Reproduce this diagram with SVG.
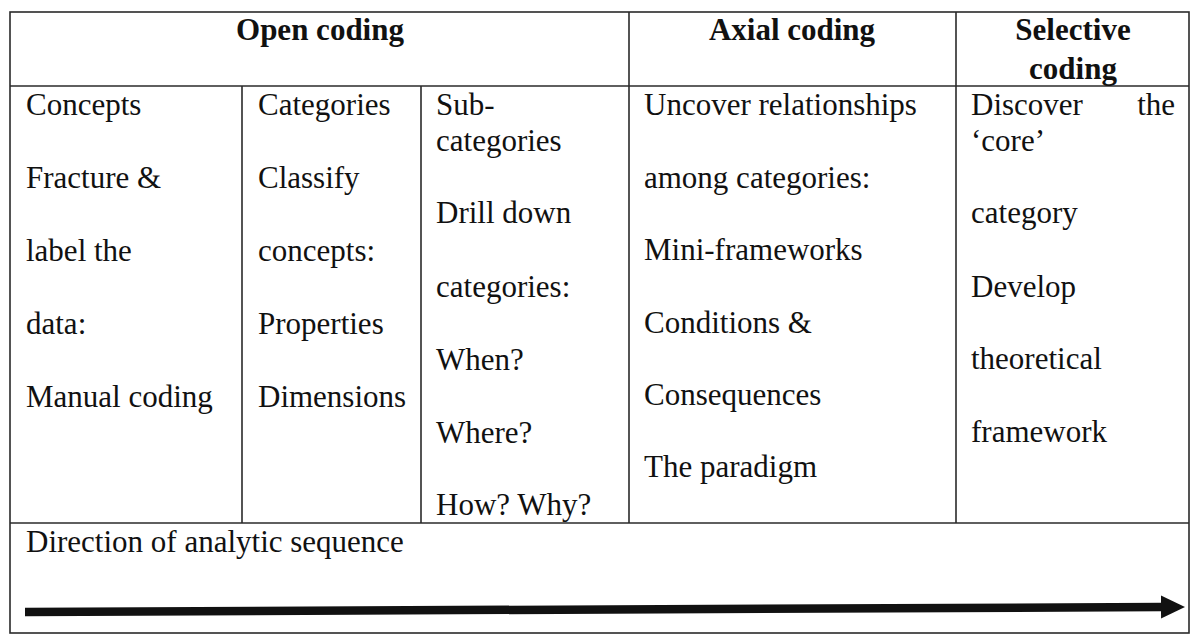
<svg xmlns="http://www.w3.org/2000/svg" width="1190" height="635" viewBox="0 0 1190 635">
  <style>
    .grid { stroke: #2a2a2a; stroke-width: 1.6; fill: none; }
    .t { font-family: "Liberation Serif", "Times New Roman", serif; font-size: 31px; fill: #111; }
    .h { font-family: "Liberation Serif", "Times New Roman", serif; font-size: 31px; font-weight: bold; fill: #111; }
  </style>
  <defs>
    <marker id="head" markerUnits="userSpaceOnUse" markerWidth="26" markerHeight="26" refX="1" refY="11.5" orient="auto">
      <polygon points="0,0 24,11.5 0,23" fill="#111"/>
    </marker>
  </defs>
  <rect width="1190" height="635" fill="#fff"/>

  <!-- table rules -->
  <g id="table-grid" class="grid">
    <rect x="10" y="12" width="1179" height="621"/>
    <line x1="10" y1="86" x2="1189" y2="86"/>
    <line x1="10" y1="523" x2="1189" y2="523"/>
    <line x1="242" y1="86" x2="242" y2="523"/>
    <line x1="421" y1="86" x2="421" y2="523"/>
    <line x1="629" y1="12" x2="629" y2="523"/>
    <line x1="956" y1="12" x2="956" y2="523"/>
  </g>

  <!-- header row -->
  <g id="head-open">
    <text class="h" x="320" y="40" text-anchor="middle">Open coding</text>
  </g>
  <g id="head-axial">
    <text class="h" x="792" y="40" text-anchor="middle">Axial coding</text>
  </g>
  <g id="head-selective">
    <text class="h" x="1073" y="40" text-anchor="middle">Selective</text>
    <text class="h" x="1073" y="79" text-anchor="middle">coding</text>
  </g>

  <!-- open coding: concepts -->
  <g id="col-concepts">
    <text class="t" x="26" y="115">Concepts</text>
    <text class="t" x="26" y="188">Fracture &amp;</text>
    <text class="t" x="26" y="261">label the</text>
    <text class="t" x="26" y="334">data:</text>
    <text class="t" x="26" y="407">Manual coding</text>
  </g>

  <!-- open coding: categories -->
  <g id="col-categories">
    <text class="t" x="258" y="115">Categories</text>
    <text class="t" x="258" y="188">Classify</text>
    <text class="t" x="258" y="261">concepts:</text>
    <text class="t" x="258" y="334">Properties</text>
    <text class="t" x="258" y="407">Dimensions</text>
  </g>

  <!-- open coding: sub-categories -->
  <g id="col-subcategories">
    <text class="t" x="436" y="115">Sub-</text>
    <text class="t" x="436" y="151">categories</text>
    <text class="t" x="436" y="223">Drill down</text>
    <text class="t" x="436" y="297">categories:</text>
    <text class="t" x="436" y="370">When?</text>
    <text class="t" x="436" y="443">Where?</text>
    <text class="t" x="436" y="515">How? Why?</text>
  </g>

  <!-- axial coding -->
  <g id="col-axial">
    <text class="t" x="644" y="115">Uncover relationships</text>
    <text class="t" x="644" y="188">among categories:</text>
    <text class="t" x="644" y="260">Mini-frameworks</text>
    <text class="t" x="644" y="333">Conditions &amp;</text>
    <text class="t" x="644" y="405">Consequences</text>
    <text class="t" x="644" y="477">The paradigm</text>
  </g>

  <!-- selective coding -->
  <g id="col-selective">
    <text class="t" x="971" y="115">Discover</text>
    <text class="t" x="1175" y="115" text-anchor="end">the</text>
    <text class="t" x="971" y="151">‘core’</text>
    <text class="t" x="971" y="223">category</text>
    <text class="t" x="971" y="297">Develop</text>
    <text class="t" x="971" y="369">theoretical</text>
    <text class="t" x="971" y="442">framework</text>
  </g>

  <!-- bottom row: analytic direction -->
  <g id="direction">
    <text class="t" x="26" y="552">Direction of analytic sequence</text>
  </g>
  <g id="connectors">
    <line x1="25" y1="612" x2="1162" y2="607" stroke="#111" stroke-width="8.5" marker-end="url(#head)"/>
  </g>
</svg>
